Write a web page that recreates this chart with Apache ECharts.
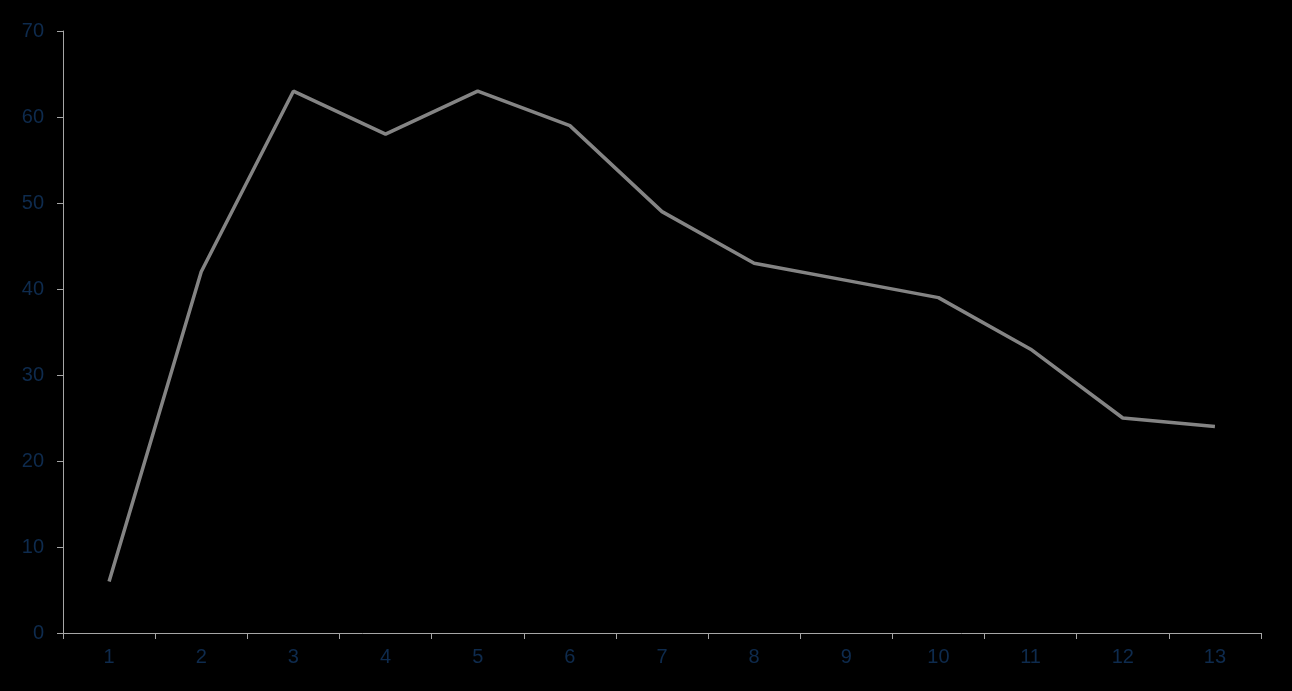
<!DOCTYPE html>
<html>
<head>
<meta charset="utf-8">
<script src="https://cdn.jsdelivr.net/npm/echarts@6/dist/echarts.min.js"></script>
<style>
html,body{margin:0;padding:0;background:#000;}
#c{width:1292px;height:691px;}
</style>
</head>
<body>
<div id="c"></div>
<script>
const categories = ['1','2','3','4','5','6','7','8','9','10','11','12','13'];
const values = [6, 42, 63, 58, 63, 59, 49, 43, 41, 39, 33, 25, 24];
const yTicks = {min: 0, max: 70, interval: 10};

const chart = echarts.init(document.getElementById('c'), null, {renderer: 'canvas'});
const labelColor = '#0e2b4e';
const axisColor = '#a6a6a6';
chart.setOption({
  backgroundColor: '#000000',
  animation: false,
  grid: {left: 63, right: 31, top: 31, bottom: 58, containLabel: false},
  xAxis: {
    type: 'category',
    data: categories,
    boundaryGap: true,
    axisLine: {lineStyle: {color: axisColor, width: 1}},
    axisTick: {show: true, length: 6, lineStyle: {color: axisColor}},
    axisLabel: {color: labelColor, fontSize: 20, fontFamily: 'Liberation Sans', margin: 14},
    splitLine: {show: false}
  },
  yAxis: {
    type: 'value',
    min: yTicks.min, max: yTicks.max, interval: yTicks.interval,
    axisLine: {show: true, lineStyle: {color: axisColor, width: 1}},
    axisTick: {show: true, length: 6, lineStyle: {color: axisColor}},
    axisLabel: {color: labelColor, fontSize: 20, fontFamily: 'Liberation Sans', margin: 19},
    splitLine: {show: false}
  },
  series: [{
    type: 'line',
    data: values,
    symbol: 'none',
    lineStyle: {color: '#848484', width: 3.5},
    itemStyle: {color: '#848484'}
  }]
});
</script>
</body>
</html>
